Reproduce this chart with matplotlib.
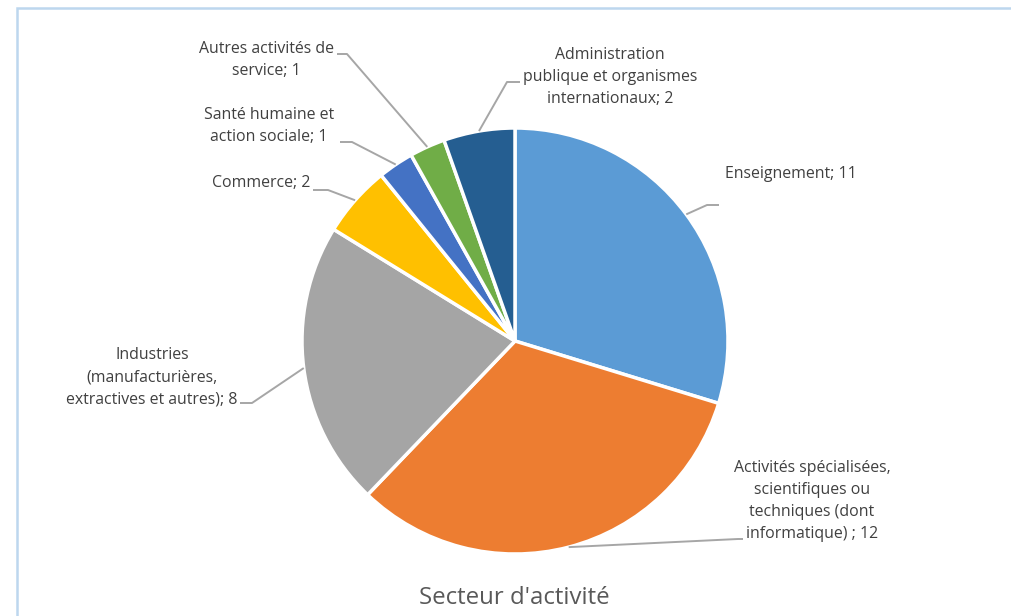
import numpy as np
import matplotlib.pyplot as plt
from matplotlib.patches import Rectangle

plt.rcParams['font.family'] = ['Open Sans', 'DejaVu Sans']

# data
labels = ['Enseignement; 11',
          'Activités spécialisées,\nscientifiques ou\ntechniques (dont\ninformatique) ; 12',
          'Industries\n(manufacturières,\nextractives et autres); 8',
          'Commerce; 2',
          'Santé humaine et\naction sociale; 1',
          'Autres activités de\nservice; 1',
          'Administration\npublique et organismes\ninternationaux; 2']
values = [11, 12, 8, 2, 1, 1, 2]
colors = ['#5B9BD5', '#ED7D31', '#A5A5A5', '#FFC000', '#4472C4', '#70AD47', '#255E91']
title = "Secteur d'activité"

W, H = 1011, 616
fig = plt.figure(figsize=(W / 100, H / 100), dpi=100)
ax = fig.add_axes([0, 0, 1, 1])

def py(y):
    # pixel row (from top) -> data y
    return H - y

cx, cy, r = 515, py(341), 213
wedges, _ = ax.pie(values, colors=colors, startangle=90, counterclock=False,
                   center=(cx, cy), radius=r,
                   wedgeprops=dict(edgecolor='white', linewidth=2.5))
ax.set_xlim(0, W)
ax.set_ylim(0, H)
ax.set_aspect('equal')
ax.axis('off')

# leader layout: elbow point, end of horizontal tick, text position, alignment
layout = [
    ((707, 205), (719, 205), (725, 174), 'left'),
    ((738, 539), (743, 539), (812, 501), 'center'),
    ((252, 403), (240, 403), (238, 377), 'right'),
    ((328, 190), (313, 190), (310, 183), 'right'),
    ((352, 142), (340, 142), (334, 126), 'right'),
    ((347, 54), (337, 54), (334, 60), 'right'),
    ((507, 82), (520, 82), (610, 77), 'center'),
]

for w, lab, (elb, end, txt, ha) in zip(wedges, labels, layout):
    mid = np.deg2rad((w.theta1 + w.theta2) / 2)
    x0 = cx + r * np.cos(mid)
    y0 = cy + r * np.sin(mid)
    ax.plot([x0, elb[0], end[0]], [y0, py(elb[1]), py(end[1])],
            color='#A6A6A6', lw=1.4, solid_capstyle='butt')
    ax.text(txt[0], py(txt[1]), lab, ha=ha, va='center', multialignment='center',
            fontsize=11.4, color='#404040', linespacing=1.5)

ax.text(514, py(598), title, ha='center', va='center', fontsize=17.3, color='#595959')

fig.patches.append(Rectangle((17 / W, -0.05), 1.0, (H - 8) / H + 0.05,
                             transform=fig.transFigure, fill=False,
                             edgecolor='#BDD7EE', lw=1.8))

fig.savefig('out.png', dpi=100)
